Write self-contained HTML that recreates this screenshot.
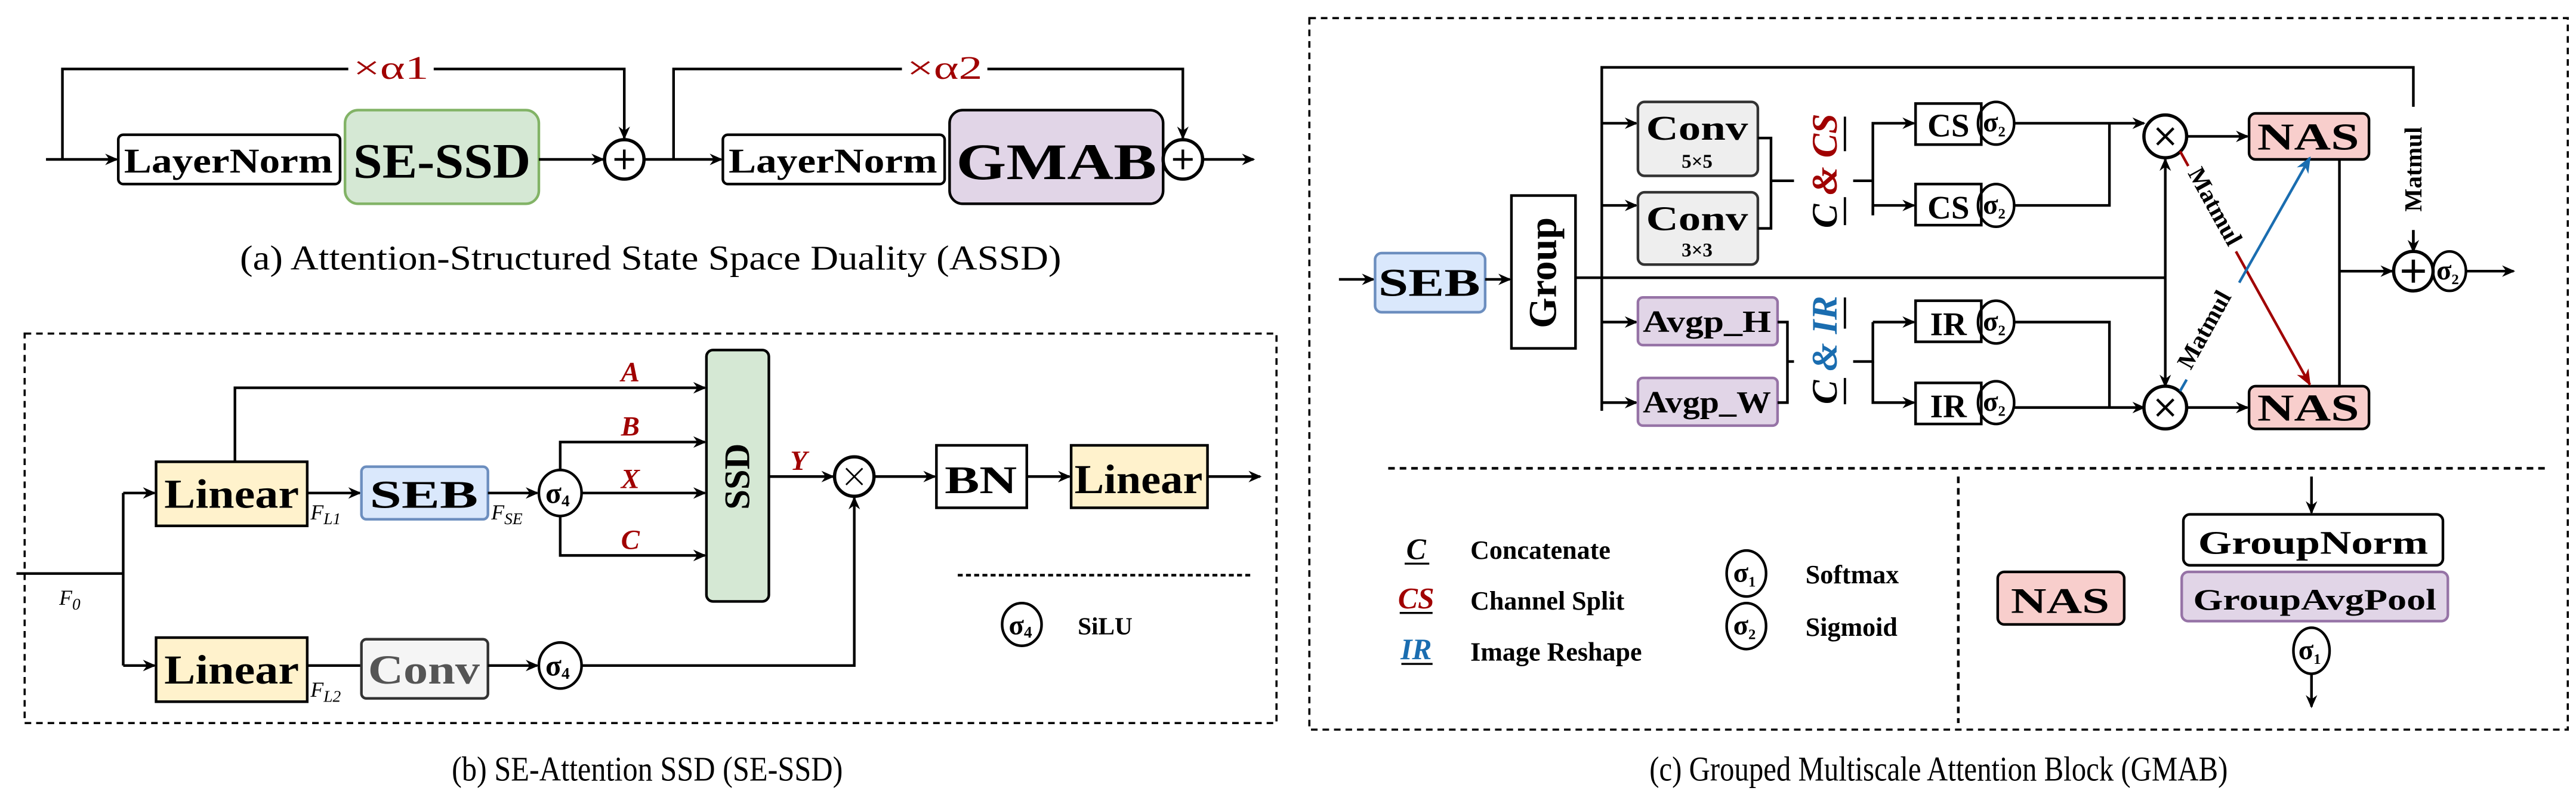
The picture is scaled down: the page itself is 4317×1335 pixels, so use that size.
<!DOCTYPE html>
<html><head><meta charset="utf-8"><style>
html,body{margin:0;padding:0;background:#fff}
svg{display:block}
text{font-family:"Liberation Serif",serif}
.b{font-weight:bold}
</style></head><body>
<svg width="4317" height="1335" viewBox="0 0 1568 485" preserveAspectRatio="none" xmlns="http://www.w3.org/2000/svg">
<defs>
<marker id="ah" markerWidth="8" markerHeight="8" refX="7" refY="4" orient="auto" markerUnits="userSpaceOnUse"><path d="M0,0.5 L8,4 L0,7.5 L2.5,4 Z" fill="#000"/></marker>
<marker id="ahr" markerWidth="10" markerHeight="10" refX="9" refY="5" orient="auto" markerUnits="userSpaceOnUse"><path d="M0,1 L10,5 L0,9 L3,5 Z" fill="#a00000"/></marker>
<marker id="ahb" markerWidth="10" markerHeight="10" refX="9" refY="5" orient="auto" markerUnits="userSpaceOnUse"><path d="M0,1 L10,5 L0,9 L3,5 Z" fill="#1a6db0"/></marker>
</defs>
<g fill="none" stroke="#000" stroke-width="1.6">
<!-- (a) -->
<path d="M28,97 H71" marker-end="url(#ah)"/>
<path d="M38,97 V42 H212 M264,42 H380 V84" marker-end="url(#ah)"/>
<rect x="72" y="82" width="135" height="30" rx="3"/>
<rect x="210" y="67" width="118" height="57" rx="8" fill="#d5e8d4" stroke="#82b366"/>
<path d="M328,97 H367" marker-end="url(#ah)"/>
<circle cx="380" cy="97" r="12" stroke-width="2"/>
<path d="M374,97 H386 M380,91 V103"/>
<path d="M392,97 H439" marker-end="url(#ah)"/>
<path d="M410,97 V42 H549 M601,42 H720 V84" marker-end="url(#ah)"/>
<rect x="440" y="82" width="135" height="30" rx="3"/>
<rect x="578" y="67" width="130" height="57" rx="8" fill="#e1d5e7"/>
<circle cx="720" cy="97" r="12" stroke-width="2"/>
<path d="M714,97 H726 M720,91 V103"/>
<path d="M732,97 H763" marker-end="url(#ah)"/>
<!-- (b) -->
<rect x="15" y="203" width="762" height="237" stroke-dasharray="4,3" stroke-width="1.3"/>
<path d="M10,349 H75 M75,300 V405"/>
<path d="M75,300 H94" marker-end="url(#ah)"/>
<path d="M75,405 H94" marker-end="url(#ah)"/>
<rect x="95" y="281" width="92" height="39" fill="#fff2cc"/>
<rect x="95" y="388" width="92" height="39" fill="#fff2cc"/>
<path d="M143,281 V236 H429" marker-end="url(#ah)"/>
<path d="M187,300 H219" marker-end="url(#ah)"/>
<rect x="220" y="284" width="77" height="32" rx="3" fill="#dae8fc" stroke="#6c8ebf"/>
<path d="M297,300 H327" marker-end="url(#ah)"/>
<ellipse cx="341" cy="300" rx="13" ry="14"/>
<path d="M341,286 V269 H429" marker-end="url(#ah)"/>
<path d="M354,300 H429" marker-end="url(#ah)"/>
<path d="M341,314 V338 H429" marker-end="url(#ah)"/>
<rect x="430" y="213" width="38" height="153" rx="4" fill="#d5e8d4"/>
<path d="M468,290 H507" marker-end="url(#ah)"/>
<circle cx="520" cy="290" r="12" stroke-width="2"/>
<path d="M515,285 L525,295 M525,285 L515,295" stroke-width="1"/>
<path d="M532,290 H569" marker-end="url(#ah)"/>
<rect x="570" y="271" width="55" height="38"/>
<path d="M625,290 H651" marker-end="url(#ah)"/>
<rect x="652" y="271" width="83" height="38" fill="#fff2cc"/>
<path d="M735,290 H767" marker-end="url(#ah)"/>
<path d="M187,405 H220"/>
<rect x="220" y="389" width="77" height="36" rx="3" fill="#f5f5f5" stroke="#333"/>
<path d="M297,405 H327" marker-end="url(#ah)"/>
<ellipse cx="341" cy="405" rx="13" ry="14"/>
<path d="M354,405 H520 V303" marker-end="url(#ah)"/>
<path d="M583,350 H762" stroke-dasharray="3,2"/>
<ellipse cx="622" cy="380" rx="12" ry="13"/>
<!-- (c) -->
<rect x="797" y="11" width="766" height="433" stroke-dasharray="4,3" stroke-width="1.3"/>
<path d="M815,170 H836" marker-end="url(#ah)"/>
<rect x="837" y="154" width="67" height="36" rx="4" fill="#dae8fc" stroke="#6c8ebf"/>
<path d="M904,170 H919" marker-end="url(#ah)"/>
<rect x="920" y="119" width="39" height="93"/>
<path d="M959,169 H1318"/>
<path d="M1318,169 V97" marker-end="url(#ah)"/>
<path d="M1318,169 V235" marker-end="url(#ah)"/>
<path d="M975,250 V41 H1469 V65 M1469,140 V152" />
<path d="M1469,140 V153" marker-end="url(#ah)"/>
<path d="M975,75 H996" marker-end="url(#ah)"/>
<path d="M975,125 H996" marker-end="url(#ah)"/>
<path d="M975,196 H996" marker-end="url(#ah)"/>
<path d="M975,245 H996" marker-end="url(#ah)"/>
<rect x="997" y="62" width="73" height="45" rx="4" fill="#eeeeee" stroke="#333"/>
<rect x="997" y="117" width="73" height="44" rx="4" fill="#eeeeee" stroke="#333"/>
<rect x="997" y="181" width="85" height="29" rx="3" fill="#e1d5e7" stroke="#9673a6"/>
<rect x="997" y="230" width="85" height="29" rx="3" fill="#e1d5e7" stroke="#9673a6"/>
<path d="M1070,84 H1078 V139 H1070 M1078,110 H1092"/>
<path d="M1082,196 H1088 V245 H1082 M1088,220 H1092"/>
<path d="M1128,110 H1140 M1140,87 V131"/>
<path d="M1140,87 V75 H1165" marker-end="url(#ah)"/>
<path d="M1140,131 V125 H1165" marker-end="url(#ah)"/>
<path d="M1128,220 H1140 V196"/>
<path d="M1140,196 H1165" marker-end="url(#ah)"/>
<path d="M1140,220 V245 H1165" marker-end="url(#ah)"/>
<rect x="1166" y="63" width="40" height="25"/>
<rect x="1166" y="112" width="40" height="25"/>
<rect x="1166" y="183" width="40" height="25"/>
<rect x="1166" y="233" width="40" height="25"/>
<ellipse cx="1215" cy="75" rx="11" ry="13"/>
<ellipse cx="1215" cy="125" rx="11" ry="13"/>
<ellipse cx="1215" cy="196" rx="11" ry="13"/>
<ellipse cx="1215" cy="245" rx="11" ry="13"/>
<path d="M1226,75 H1305" marker-end="url(#ah)"/>
<path d="M1226,125 H1284 V75"/>
<path d="M1226,196 H1284 V248"/>
<path d="M1226,248 H1305" marker-end="url(#ah)"/>
<circle cx="1318" cy="83" r="13" stroke-width="2"/>
<path d="M1313,78 L1323,88 M1323,78 L1313,88"/>
<circle cx="1318" cy="248" r="13" stroke-width="2"/>
<path d="M1313,243 L1323,253 M1323,243 L1313,253"/>
<path d="M1331,83 H1368" marker-end="url(#ah)"/>
<path d="M1331,248 H1368" marker-end="url(#ah)"/>
<rect x="1369" y="69" width="73" height="28" rx="4" fill="#f8cecc"/>
<rect x="1369" y="235" width="73" height="26" rx="4" fill="#f8cecc"/>
<path d="M1424,97 V235 M1424,165 H1456"/>
<path d="M1424,165 H1456" marker-end="url(#ah)"/>
<circle cx="1469" cy="165" r="12" stroke-width="2"/>
<path d="M1462,165 H1476 M1469,158 V172" stroke-width="2"/>
<ellipse cx="1491" cy="165" rx="10" ry="12"/>
<path d="M1501,165 H1530" marker-end="url(#ah)"/>
<path d="M1327,92 L1332,101" stroke="#a00000"/>
<path d="M1361,153 L1406,234" stroke="#a00000" marker-end="url(#ahr)"/>
<path d="M1327,238 L1331,231" stroke="#1a6db0"/>
<path d="M1363,172 L1406,96" stroke="#1a6db0" marker-end="url(#ahb)"/>
<path d="M845,285 H1549" stroke-dasharray="4,3"/>
<path d="M1192,290 V440" stroke-dasharray="4,3"/>
<ellipse cx="1063" cy="349" rx="12" ry="14"/>
<ellipse cx="1063" cy="381" rx="12" ry="14"/>
<rect x="1216" y="348" width="77" height="32" rx="4" fill="#f8cecc"/>
<path d="M1407,290 V312" marker-end="url(#ah)"/>
<rect x="1329" y="313" width="158" height="31" rx="4"/>
<rect x="1328" y="348" width="162" height="30" rx="4" fill="#e1d5e7" stroke="#9673a6"/>
<ellipse cx="1407" cy="396" rx="11" ry="14"/>
<path d="M1407,410 V430" marker-end="url(#ah)"/>
<path d="M855,343 H870 M852,373 H872 M853,404 H872" stroke-width="1.2"/>
<path d="M1123,71 V92 M1123,120 V137 M1123,181 V200 M1123,230 V246" stroke-width="1.4"/>
</g>
<g fill="#000">
<!-- (a) text -->
<text x="215" y="48" fill="#a00000" font-size="20" textLength="46" lengthAdjust="spacingAndGlyphs">×α1</text>
<text x="552" y="48" fill="#a00000" font-size="20" textLength="46" lengthAdjust="spacingAndGlyphs">×α2</text>
<text x="139" y="105" class="b" font-size="21" text-anchor="middle" textLength="127" lengthAdjust="spacingAndGlyphs">LayerNorm</text>
<text x="269" y="108" class="b" font-size="30" text-anchor="middle" textLength="108" lengthAdjust="spacingAndGlyphs">SE-SSD</text>
<text x="507" y="105" class="b" font-size="21" text-anchor="middle" textLength="127" lengthAdjust="spacingAndGlyphs">LayerNorm</text>
<text x="643" y="109" class="b" font-size="31" text-anchor="middle" textLength="122" lengthAdjust="spacingAndGlyphs">GMAB</text>
<text x="396" y="164" font-size="21" text-anchor="middle" textLength="500" lengthAdjust="spacingAndGlyphs">(a) Attention-Structured State Space Duality (ASSD)</text>
<!-- (b) text -->
<text x="141" y="309" class="b" font-size="25" text-anchor="middle" textLength="82" lengthAdjust="spacingAndGlyphs">Linear</text>
<text x="141" y="416" class="b" font-size="25" text-anchor="middle" textLength="82" lengthAdjust="spacingAndGlyphs">Linear</text>
<text x="258" y="309" class="b" font-size="24" text-anchor="middle" textLength="66" lengthAdjust="spacingAndGlyphs">SEB</text>
<text x="258" y="416" class="b" font-size="25" text-anchor="middle" fill="#555" textLength="68" lengthAdjust="spacingAndGlyphs">Conv</text>
<text x="189" y="316" font-size="13" font-style="italic">F<tspan font-size="10" dy="3">L1</tspan></text>
<text x="189" y="424" font-size="13" font-style="italic">F<tspan font-size="10" dy="3">L2</tspan></text>
<text x="299" y="316" font-size="13" font-style="italic">F<tspan font-size="10" dy="3">SE</tspan></text>
<text x="36" y="368" font-size="13" font-style="italic">F<tspan font-size="10" dy="3">0</tspan></text>
<text x="332" y="306" class="b" font-size="18">σ<tspan font-size="10" dy="2">4</tspan></text>
<text x="332" y="411" class="b" font-size="18">σ<tspan font-size="10" dy="2">4</tspan></text>
<text x="614" y="386" class="b" font-size="17">σ<tspan font-size="10" dy="2">4</tspan></text>
<text x="656" y="386" class="b" font-size="15">SiLU</text>
<g fill="#a00000" font-style="italic" font-weight="bold" font-size="17">
<text x="378" y="232">A</text><text x="378" y="265">B</text><text x="378" y="297">X</text><text x="378" y="334">C</text><text x="481" y="286">Y</text>
</g>
<text transform="translate(456,290) rotate(-90)" class="b" font-size="22" text-anchor="middle">SSD</text>
<text x="597" y="300" class="b" font-size="24" text-anchor="middle" textLength="44" lengthAdjust="spacingAndGlyphs">BN</text>
<text x="693" y="300" class="b" font-size="25" text-anchor="middle" textLength="78" lengthAdjust="spacingAndGlyphs">Linear</text>
<text x="394" y="475" font-size="21" text-anchor="middle" textLength="238" lengthAdjust="spacingAndGlyphs">(b) SE-Attention SSD (SE-SSD)</text>
<!-- (c) text -->
<text x="870" y="180" class="b" font-size="24" text-anchor="middle" textLength="62" lengthAdjust="spacingAndGlyphs">SEB</text>
<text transform="translate(947,166) rotate(-90)" class="b" font-size="24" text-anchor="middle">Group</text>
<text x="1033" y="85" class="b" font-size="21" text-anchor="middle" textLength="62" lengthAdjust="spacingAndGlyphs">Conv</text>
<text x="1033" y="102" class="b" font-size="12" text-anchor="middle">5×5</text>
<text x="1033" y="140" class="b" font-size="21" text-anchor="middle" textLength="62" lengthAdjust="spacingAndGlyphs">Conv</text>
<text x="1033" y="156" class="b" font-size="12" text-anchor="middle">3×3</text>
<text x="1039" y="202" class="b" font-size="19" text-anchor="middle" textLength="78" lengthAdjust="spacingAndGlyphs">Avgp_H</text>
<text x="1039" y="251" class="b" font-size="19" text-anchor="middle" textLength="78" lengthAdjust="spacingAndGlyphs">Avgp_W</text>
<text transform="translate(1118,104) rotate(-90)" font-style="italic" font-weight="bold" font-size="22" text-anchor="middle">C<tspan fill="#a00000"> &amp; CS</tspan></text>
<text transform="translate(1118,213) rotate(-90)" font-style="italic" font-weight="bold" font-size="22" text-anchor="middle">C<tspan fill="#1a6db0"> &amp; IR</tspan></text>
<text x="1186" y="83" class="b" font-size="20" text-anchor="middle">CS</text>
<text x="1186" y="133" class="b" font-size="20" text-anchor="middle">CS</text>
<text x="1186" y="204" class="b" font-size="20" text-anchor="middle">IR</text>
<text x="1186" y="254" class="b" font-size="20" text-anchor="middle">IR</text>
<g class="b" font-size="17">
<text x="1207" y="80">σ<tspan font-size="9" dy="3">2</tspan></text>
<text x="1207" y="130">σ<tspan font-size="9" dy="3">2</tspan></text>
<text x="1207" y="201">σ<tspan font-size="9" dy="3">2</tspan></text>
<text x="1207" y="250">σ<tspan font-size="9" dy="3">2</tspan></text>
<text x="1483" y="170">σ<tspan font-size="9" dy="3">2</tspan></text>
<text x="1055" y="354">σ<tspan font-size="9" dy="3">1</tspan></text>
<text x="1055" y="386">σ<tspan font-size="9" dy="3">2</tspan></text>
<text x="1399" y="401">σ<tspan font-size="9" dy="3">1</tspan></text>
</g>
<text x="1405" y="91" class="b" font-size="23" text-anchor="middle" textLength="62" lengthAdjust="spacingAndGlyphs">NAS</text>
<text x="1405" y="256" class="b" font-size="23" text-anchor="middle" textLength="62" lengthAdjust="spacingAndGlyphs">NAS</text>
<text transform="translate(1474,103) rotate(-90)" class="b" font-size="15" text-anchor="middle">Matmul</text>
<text transform="translate(1344,128) rotate(61)" class="b" font-size="15" text-anchor="middle">Matmul</text>
<text transform="translate(1346,203) rotate(-61)" class="b" font-size="15" text-anchor="middle">Matmul</text>
<text x="862" y="340" font-style="italic" font-weight="bold" font-size="18" text-anchor="middle">C</text>
<text x="862" y="370" font-style="italic" font-weight="bold" font-size="18" text-anchor="middle" fill="#a00000">CS</text>
<text x="862" y="401" font-style="italic" font-weight="bold" font-size="18" text-anchor="middle" fill="#1a6db0">IR</text>
<text x="895" y="340" class="b" font-size="16">Concatenate</text>
<text x="895" y="371" class="b" font-size="16">Channel Split</text>
<text x="895" y="402" class="b" font-size="16">Image Reshape</text>
<text x="1099" y="355" class="b" font-size="16">Softmax</text>
<text x="1099" y="387" class="b" font-size="16">Sigmoid</text>
<text x="1254" y="373" class="b" font-size="22" text-anchor="middle" textLength="60" lengthAdjust="spacingAndGlyphs">NAS</text>
<text x="1408" y="337" class="b" font-size="20" text-anchor="middle" textLength="140" lengthAdjust="spacingAndGlyphs">GroupNorm</text>
<text x="1409" y="371" class="b" font-size="18" text-anchor="middle" textLength="148" lengthAdjust="spacingAndGlyphs">GroupAvgPool</text>
<text x="1180" y="475" font-size="21" text-anchor="middle" textLength="352" lengthAdjust="spacingAndGlyphs">(c) Grouped Multiscale Attention Block (GMAB)</text>
</g>
</svg>
</body></html>
